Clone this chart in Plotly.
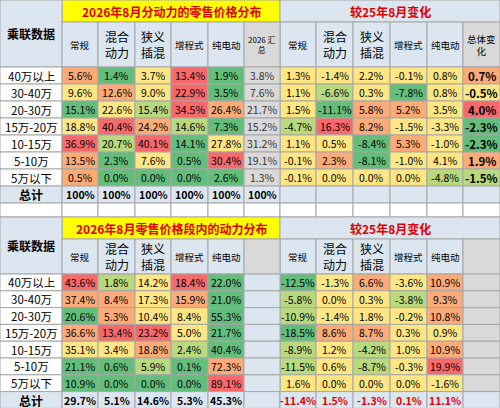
import plotly.graph_objs as go

# ---- data ----
rows = ["40万以上", "30-40万", "20-30万", "15万-20万", "10-15万", "5-10万", "5万以下"]
cols = ["常规", "混合<br>动力", "狭义<br>插混", "增程式", "纯电动"]

share = [  # 2026年8月分动力的零售价格分布
    [5.6, 1.4, 3.7, 13.4, 1.9],
    [9.6, 12.6, 9.0, 22.9, 3.5],
    [15.1, 22.6, 15.4, 34.5, 26.4],
    [18.8, 40.4, 24.2, 14.6, 7.3],
    [36.9, 20.7, 40.1, 14.1, 27.8],
    [13.5, 2.3, 7.6, 0.5, 30.4],
    [0.5, 0.0, 0.0, 0.0, 2.6],
]
share_total = [3.8, 7.6, 21.7, 15.2, 31.2, 19.1, 1.3]
share_chg = [
    [1.3, -1.4, 2.2, -0.1, 0.8],
    [1.1, -6.6, 0.3, -7.8, 0.8],
    [1.5, -11.1, 5.8, 5.2, 3.5],
    [-4.7, 16.3, 8.2, -1.5, -3.3],
    [1.1, 0.5, -8.4, 5.3, -1.0],
    [-0.1, 2.3, -8.1, -1.0, 4.1],
    [-0.1, 0.0, 0.0, 0.0, -4.8],
]
share_total_chg = [0.7, -0.5, 4.0, -2.3, -2.3, 1.9, -1.5]

mix = [  # 2026年8月零售价格段内的动力分布
    [43.6, 1.8, 14.2, 18.4, 22.0],
    [37.4, 8.4, 17.3, 15.9, 21.0],
    [20.6, 5.3, 10.4, 8.4, 55.3],
    [36.6, 13.4, 23.2, 5.0, 21.7],
    [35.1, 3.4, 18.8, 2.4, 40.4],
    [21.1, 0.6, 5.9, 0.1, 72.3],
    [10.9, 0.0, 0.0, 0.0, 89.1],
]
mix_sum = [29.7, 5.1, 14.6, 5.3, 45.3]
mix_chg = [
    [-12.5, -1.3, 6.6, -3.6, 10.9],
    [-5.8, 0.0, 0.3, -3.8, 9.3],
    [-10.9, -1.4, 1.8, -0.2, 10.8],
    [-18.5, 8.6, 8.7, 0.3, 0.9],
    [-8.9, 1.2, -4.2, 1.0, 10.9],
    [-11.5, 0.6, -8.7, -0.3, 19.9],
    [1.6, 0.0, 0.0, 0.0, -1.6],
]
mix_sum_chg = [-11.4, 1.5, -1.3, 0.1, 11.1]

# conditional-format shades as they appear (G green, g light green, Y yellow, O orange, R red)
shade_share = ["OGYRG", "YOYRG", "GYgRO", "YROgG", "RgRGY", "OGYGR", "OGGGG"]
shade_share_chg = ["YYYYYO", "YgYGYY", "YGOOYR", "gROYYG", "YYGOYG", "YOGYYO", "YYYYgg"]
shade_mix = ["RgYRG", "OOYOG", "GOYYG", "ORRYG", "YYOgG", "GGgGO", "GGGGR"]
shade_mix_chg = ["GYOYO", "gYYgO", "gYYYO", "GOOYY", "gYgYO", "gYgYR", "YYYYY"]
PAL = {"G": "#63be7b", "g": "#b9d97f", "Y": "#ffe684", "O": "#fbab77", "R": "#f8696b"}

# ---- geometry ----
xs = [0, 62, 98, 135, 171, 208, 244, 280, 316, 353, 390, 427, 463, 500]
GRID = "#a6a6a6"
BLUE = "#dce6f1"
GRAY = "#d9d9d9"
FONT = "Noto Sans CJK SC"

shapes, ann = [], []


def cell(x0, x1, y0, y1, fill="white"):
    shapes.append(dict(type="rect", xref="x", yref="y", x0=x0, x1=x1, y0=y0, y1=y1,
                       fillcolor=fill, line=dict(color=GRID, width=1), layer="below"))


def text(x0, x1, y0, y1, s, size=11, color="black", bold=False):
    ann.append(dict(x=(x0 + x1) / 2, y=(y0 + y1) / 2, xref="x", yref="y",
                    text=("<b>%s</b>" % s) if bold else s, showarrow=False,
                    font=dict(size=size, color=color, family=FONT)))


def pct(v):
    return "%.1f%%" % v


def table(top, hdr_h, rh, title_l, title_r, data, shd, extra, chg, shc, extra_chg, total_vals, total_chg):
    hdr_y0 = top + 22
    hdr_y1 = hdr_y0 + hdr_h
    cell(xs[1], xs[7], top, hdr_y0, "#ffff00")
    text(xs[1], xs[7], top, hdr_y0, title_l, 12, "#e00000", True)
    cell(xs[7], xs[13], top, hdr_y0, BLUE)
    text(xs[7], xs[13], top, hdr_y0, title_r, 12, "#e00000", True)
    cell(xs[0], xs[1], top, hdr_y1, BLUE)
    text(xs[0], xs[1], top, hdr_y1, "乘联数据", 12, "black", True)
    for k, c in enumerate(cols):
        for off in (1, 7):
            cell(xs[off + k], xs[off + k + 1], hdr_y0, hdr_y1, BLUE)
            text(xs[off + k], xs[off + k + 1], hdr_y0, hdr_y1, c, 12 if "<br>" in c else 9.5)
    cell(xs[6], xs[7], hdr_y0, hdr_y1, GRAY)
    cell(xs[12], xs[13], hdr_y0, hdr_y1, GRAY)
    if extra is not None:
        text(xs[6], xs[7], hdr_y0, hdr_y1, "2026 汇<br>总", 8)
        text(xs[12], xs[13], hdr_y0, hdr_y1, "总体变<br>化", 9.5)
    for i, r in enumerate(rows):
        y0 = hdr_y1 + i * rh
        y1 = y0 + rh
        cell(xs[0], xs[1], y0, y1)
        text(xs[0], xs[1], y0, y1, r, 11.5)
        for k in range(5):
            cell(xs[1 + k], xs[2 + k], y0, y1, PAL[shd[i][k]])
            text(xs[1 + k], xs[2 + k], y0, y1, pct(data[i][k]), 10.5)
            cell(xs[7 + k], xs[8 + k], y0, y1, PAL[shc[i][k]])
            text(xs[7 + k], xs[8 + k], y0, y1, pct(chg[i][k]), 10.5)
        if extra is not None:
            cell(xs[6], xs[7], y0, y1, GRAY)
            text(xs[6], xs[7], y0, y1, pct(extra[i]), 10.5, "#333333")
            cell(xs[12], xs[13], y0, y1, PAL[shc[i][5]])
            text(xs[12], xs[13], y0, y1, pct(extra_chg[i]), 11.5, bold=True)
        else:
            cell(xs[6], xs[7], y0, y1, BLUE)
            cell(xs[12], xs[13], y0, y1, GRAY)
    y0 = hdr_y1 + 7 * rh
    y1 = y0 + rh
    cell(xs[0], xs[1], y0, y1, BLUE)
    text(xs[0], xs[1], y0, y1, "总计", 12, bold=True)
    for k in range(12):
        cell(xs[1 + k], xs[2 + k], y0, y1, BLUE)
    for k, s in enumerate(total_vals):
        text(xs[1 + k], xs[2 + k], y0, y1, s, 10.5, bold=True)
    for k, s in enumerate(total_chg):
        text(xs[7 + k], xs[8 + k], y0, y1, s, 10.5, "#e00000", bold=True)
    return y1


end = table(0, 45, 17, "2026年8月分动力的零售价格分布", "较25年8月变化", share, shade_share, share_total,
            share_chg, shade_share_chg, share_total_chg, ["100%"] * 6, [])
for k in range(13):
    cell(xs[k], xs[k + 1], end, 217)
table(217, 35, 16.8, "2026年8月零售价格段内的动力分布", "较25年8月变化", mix, shade_mix, None,
      mix_chg, shade_mix_chg, None, [pct(v) for v in mix_sum], [pct(v) for v in mix_sum_chg])

fig = go.Figure()
fig.add_trace(go.Scatter(x=[0, 500], y=[0, 408], mode="markers", marker=dict(opacity=0), hoverinfo="skip"))
fig.update_layout(
    width=500, height=408, margin=dict(l=0, r=0, t=0, b=0),
    plot_bgcolor="white", paper_bgcolor="white", showlegend=False,
    shapes=shapes, annotations=ann,
    xaxis=dict(range=[0, 500], visible=False, fixedrange=True),
    yaxis=dict(range=[408, 0], visible=False, fixedrange=True),
)
fig.write_html("out.html", config={"displayModeBar": False},
               post_script="document.body.style.margin='0';document.body.style.overflow='hidden';")
